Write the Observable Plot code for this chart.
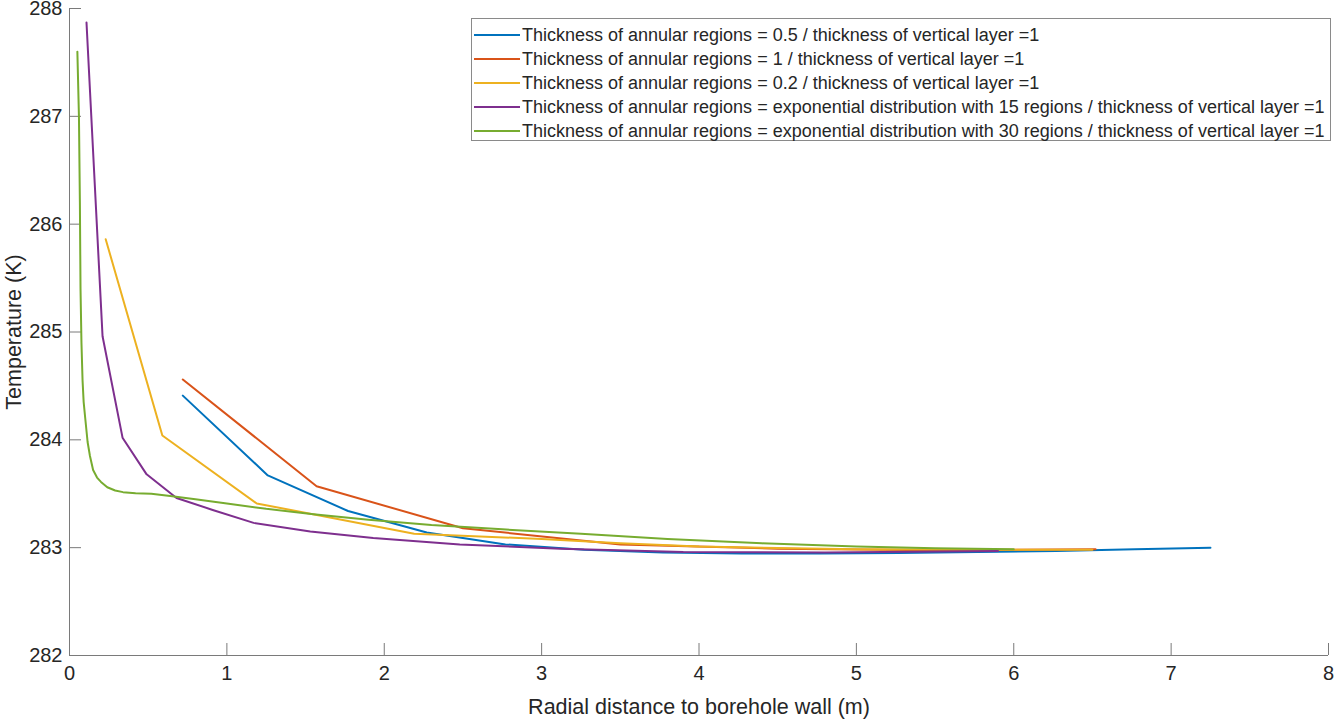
<!DOCTYPE html>
<html><head><meta charset="utf-8">
<script src="https://cdn.jsdelivr.net/npm/d3@7"></script>
<script src="https://cdn.jsdelivr.net/npm/@observablehq/plot@0.6"></script>
<style>
html,body{margin:0;padding:0;background:#fff;}
#wrap{position:relative;width:1336px;height:720px;font-family:"Liberation Sans",Arial,sans-serif;}
#chart{position:absolute;left:0;top:0;}
#legend{position:absolute;left:471px;top:18px;width:858px;height:117px;padding-top:4px;border:1px solid #8a8a8a;background:#fff;}
.row{height:24px;display:flex;align-items:center;font-size:18px;color:#262626;white-space:nowrap;}
.sw{width:46px;height:2px;margin-left:2px;margin-right:2px;flex:none;}
</style></head>
<body><div id="wrap"><div id="chart"></div><div id="legend"></div></div>
<script>
const seriesNames = [
  "Thickness of annular regions = 0.5 / thickness of vertical layer =1",
  "Thickness of annular regions = 1 / thickness of vertical layer =1",
  "Thickness of annular regions = 0.2 / thickness of vertical layer =1",
  "Thickness of annular regions = exponential distribution with 15 regions / thickness of vertical layer =1",
  "Thickness of annular regions = exponential distribution with 30 regions / thickness of vertical layer =1"
];
const seriesColors = ["#0072BD", "#D95319", "#EDB120", "#7E2F8E", "#77AC30"];
const xTicks = [0, 1, 2, 3, 4, 5, 6, 7, 8];
const yTicks = [282, 283, 284, 285, 286, 287, 288];
const xLabel = "Radial distance to borehole wall (m)";
const yLabel = "Temperature (K)";

// 0.5 m annular regions
const rHalf = [0.72, 1.26, 1.77, 2.27, 2.77, 3.27, 3.77, 4.27, 4.77, 5.27, 5.77, 6.27, 6.77, 7.25];
const tHalf = [284.41, 283.67, 283.34, 283.14, 283.03, 282.98, 282.955, 282.945, 282.945, 282.95, 282.96, 282.97, 282.985, 283.0];
// 1 m annular regions
const rOne = [0.72, 1.57, 2.5, 3.5, 4.5, 5.5, 6.52];
const tOne = [284.56, 283.57, 283.18, 283.03, 282.99, 282.975, 282.985];
// 0.2 m annular regions
const rFifth = [0.23, 0.59, 1.19, 2.19, 3.0, 3.5, 4.0, 5.0, 6.0, 6.5];
const tFifth = [285.86, 284.04, 283.41, 283.13, 283.08, 283.04, 283.01, 282.985, 282.98, 282.98];
// exponential, 15 regions
const rExp15 = [0.108, 0.21, 0.337, 0.49, 0.68, 0.91, 1.17, 1.53, 1.93, 2.48, 3.12, 3.9, 4.8, 5.9];
const tExp15 = [287.87, 284.96, 284.02, 283.68, 283.46, 283.35, 283.23, 283.15, 283.09, 283.03, 282.99, 282.96, 282.955, 282.97];
// exponential, 30 regions
const rExp30 = [0.05, 0.06, 0.066, 0.07, 0.076, 0.083, 0.09, 0.10, 0.115, 0.13, 0.15, 0.175, 0.20, 0.24, 0.29, 0.34, 0.42, 0.52, 0.64, 0.8, 1.0, 1.25, 1.55, 1.9, 2.3, 2.75, 3.25, 3.8, 4.4, 5.0, 5.5, 6.0];
const tExp30 = [287.6, 287.0, 286.2, 285.4, 284.9, 284.55, 284.35, 284.2, 283.98, 283.85, 283.72, 283.65, 283.61, 283.56, 283.53, 283.515, 283.505, 283.5, 283.48, 283.45, 283.41, 283.36, 283.31, 283.26, 283.21, 283.17, 283.13, 283.08, 283.04, 283.01, 282.995, 282.985];

const seriesR = [rHalf, rOne, rFifth, rExp15, rExp30];
const seriesT = [tHalf, tOne, tFifth, tExp15, tExp30];

const data = [];
seriesR.forEach((rs, i) => rs.forEach((r, j) => data.push({series: seriesNames[i], r, t: seriesT[i][j]})));

const axisGray = "#7a7a7a";
const textColor = "#262626";
const font = '"Liberation Sans", Arial, sans-serif';
const fmt = d => String(d);

const chart = Plot.plot({
  width: 1336, height: 720,
  marginLeft: 69, marginRight: 8, marginTop: 8, marginBottom: 65,
  style: {fontFamily: font, color: textColor, background: "#fff"},
  x: {domain: [0, 8]},
  y: {domain: [282, 288]},
  color: {domain: seriesNames, range: seriesColors},
  marks: [
    Plot.ruleY([282], {stroke: axisGray}),
    Plot.ruleX([0], {stroke: axisGray}),
    Plot.tickX(xTicks, {x: d => d, stroke: axisGray, insetTop: 635}),
    Plot.tickY(yTicks, {y: d => d, stroke: axisGray, insetRight: 1247}),
    Plot.axisX(xTicks, {tickSize: 0, tickPadding: 10, tickFormat: fmt, fontSize: 20, fill: textColor, label: null}),
    Plot.axisY(yTicks, {tickSize: 0, tickPadding: 7, tickFormat: fmt, fontSize: 20, fill: textColor, label: null}),
    Plot.axisX(xTicks, {tickSize: 0, tickFormat: () => "", label: xLabel, labelAnchor: "center", labelArrow: "none", labelOffset: 58, fontSize: 21.5, fill: textColor}),
    Plot.axisY(yTicks, {tickSize: 0, tickFormat: () => "", label: yLabel, labelAnchor: "center", labelArrow: "none", labelOffset: 64, fontSize: 21.5, fill: textColor}),
    Plot.line(data, {x: "r", y: "t", z: "series", stroke: "series", strokeWidth: 2})
  ]
});
document.getElementById("chart").appendChild(chart);

const legend = document.getElementById("legend");
seriesNames.forEach((name, i) => {
  const row = document.createElement("div");
  row.className = "row";
  const sw = document.createElement("span");
  sw.className = "sw";
  sw.style.background = seriesColors[i];
  const lab = document.createElement("span");
  lab.textContent = name;
  row.appendChild(sw);
  row.appendChild(lab);
  legend.appendChild(row);
});
</script>
</body></html>
